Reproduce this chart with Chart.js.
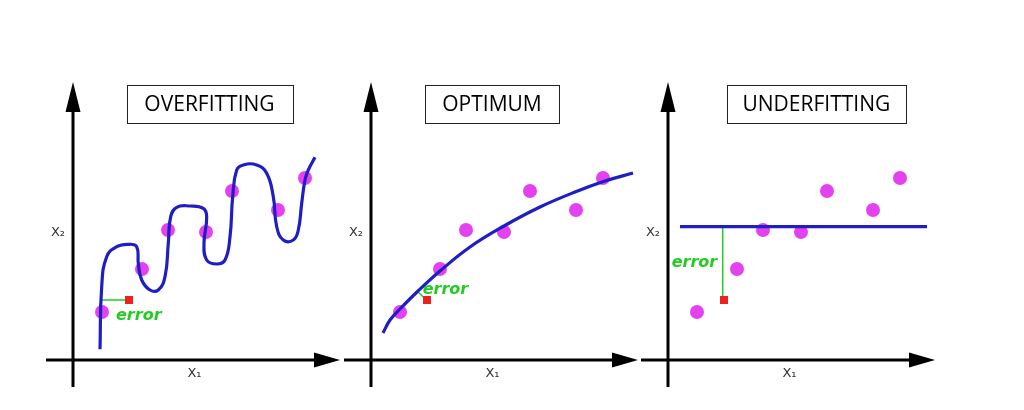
<!DOCTYPE html>
<html>
<head>
<meta charset="utf-8">
<script src="https://cdn.jsdelivr.net/npm/chart.js@4.4.0/dist/chart.umd.min.js"></script>
<style>
  body { margin: 0; background: #fff; width: 1024px; height: 410px; overflow: hidden; }
  canvas { position: absolute; top: 78px; }
</style>
</head>
<body>
<canvas id="c0" width="300" height="315" style="left:46px"></canvas>
<canvas id="c1" width="300" height="315" style="left:344px"></canvas>
<canvas id="c2" width="300" height="315" style="left:641px"></canvas>
<script>
// --- data (same sample points in all three panels) ---
const pointX = [2.9, 6.9, 9.5, 13.3, 15.9, 20.5, 23.2];
const pointY = [4.8, 9.1, 13.0, 12.8, 16.9, 15.0, 18.2];
const testX = [5.6];
const testY = [6.0];

// fitted curves
const overfitX = [2.7, 2.87, 3.37, 4.37, 5.53, 6.37, 6.53, 6.87, 7.7, 8.53, 9.2, 9.53, 9.77, 10.37, 11.7, 13.03, 13.37, 13.1, 13.37, 14.37, 15.2, 15.7, 15.97, 16.37, 17.03, 18.37, 19.37, 20.03, 20.37, 21.03, 22.03, 22.53, 22.87, 23.2, 23.53, 24.2];
const overfitY = [1.07, 7.33, 10.33, 11.33, 11.57, 11.33, 9.67, 8.0, 7.0, 7.0, 8.33, 11.67, 14.33, 15.27, 15.4, 15.17, 14.33, 11.67, 10.0, 9.6, 10.0, 12.33, 16.33, 19.0, 19.5, 19.5, 18.67, 16.33, 13.33, 12.0, 12.0, 13.0, 15.67, 18.0, 19.0, 20.27];
const optimumX = [1.2, 1.9, 2.9, 4.6, 6.9, 9.9, 13.3, 16.9, 20.4, 23.4, 26.2];
const optimumY = [2.7, 4.0, 5.1, 6.8, 8.9, 11.3, 13.4, 15.3, 16.8, 17.9, 18.7];
const underfitX = [1.2, 25.9];
const underfitY = [13.33, 13.33];

// error segments
const errOverX = [2.87, 5.57];
const errOverY = [6.0, 6.0];
const errOptX = [4.63, 5.5];
const errOptY = [6.88, 6.05];
const errUnderX = [5.47, 5.47];
const errUnderY = [13.33, 6.0];

const titles = ['OVERFITTING', 'OPTIMUM', 'UNDERFITTING'];

const BLUE = '#1e1ec4';
const MAGENTA = '#e442ef';
const GREEN = '#22cc22';
const RED = '#ee2020';

const panels = [
  { title: titles[0], cx: overfitX, cy: overfitY, tension: 0.45, ex: errOverX, ey: errOverY, label: [4.3, 4.4], box: [5.37, 21.93] },
  { title: titles[1], cx: optimumX, cy: optimumY, tension: 0.4, ex: errOptX, ey: errOptY, label: [5.17, 7.0], box: [5.4, 18.8] },
  { title: titles[2], cx: underfitX, cy: underfitY, tension: 0, ex: errUnderX, ey: errUnderY, label: [0.37, 9.73], box: [5.87, 23.8] }
];

function toXY(xs, ys) {
  return xs.map((x, i) => ({ x: x, y: ys[i] }));
}

// axes with arrows, title box, labels
const decorPlugin = {
  id: 'decor',
  beforeDatasetsDraw(chart) {
    const ctx = chart.ctx;
    const xs = chart.scales.x, ys = chart.scales.y;
    const ox = xs.getPixelForValue(0), oy = ys.getPixelForValue(0);
    const xEnd = xs.getPixelForValue(26.7), xStart = xs.getPixelForValue(-2.7);
    const yEnd = ys.getPixelForValue(27.8), yStart = ys.getPixelForValue(-2.7);
    ctx.save();
    ctx.strokeStyle = '#000';
    ctx.fillStyle = '#000';
    ctx.lineWidth = 3;
    ctx.beginPath();
    ctx.moveTo(xStart, oy); ctx.lineTo(xEnd - 24, oy);
    ctx.moveTo(ox, yStart); ctx.lineTo(ox, yEnd + 26);
    ctx.stroke();
    // arrow heads
    ctx.beginPath();
    ctx.moveTo(xEnd, oy);
    ctx.lineTo(xEnd - 26, oy - 7.5);
    ctx.lineTo(xEnd - 26, oy + 7.5);
    ctx.closePath();
    ctx.fill();
    ctx.beginPath();
    ctx.moveTo(ox, yEnd);
    ctx.lineTo(ox - 7.5, yEnd + 30);
    ctx.lineTo(ox + 7.5, yEnd + 30);
    ctx.closePath();
    ctx.fill();
    // axis labels
    ctx.fillStyle = '#333';
    ctx.font = '13px "DejaVu Sans"';
    ctx.textAlign = 'center';
    ctx.textBaseline = 'middle';
    ctx.fillText('X\u2082', xs.getPixelForValue(-1.5), ys.getPixelForValue(12.7));
    ctx.fillText('X\u2081', xs.getPixelForValue(12.15), ys.getPixelForValue(-1.35));
    ctx.restore();
  },
  afterDraw(chart, args, opts) {
    const ctx = chart.ctx;
    const xs = chart.scales.x, ys = chart.scales.y;
    const p = opts.panel;
    ctx.save();
    // title box
    const bx0 = xs.getPixelForValue(p.box[0]), bx1 = xs.getPixelForValue(p.box[1]);
    const by0 = ys.getPixelForValue(27.5), by1 = ys.getPixelForValue(23.73);
    ctx.fillStyle = '#fff';
    ctx.fillRect(bx0, by0, bx1 - bx0, by1 - by0);
    ctx.strokeStyle = '#222';
    ctx.lineWidth = 1;
    ctx.strokeRect(Math.round(bx0) + 0.5, Math.round(by0) + 0.5, Math.round(bx1 - bx0), Math.round(by1 - by0));
    ctx.fillStyle = '#000';
    ctx.font = '21px "Open Sans"';
    ctx.textAlign = 'center';
    ctx.textBaseline = 'middle';
    ctx.fillText(p.title, (bx0 + bx1) / 2, (by0 + by1) / 2 + 1);
    // error label
    ctx.fillStyle = GREEN;
    ctx.font = 'italic bold 16px "DejaVu Sans"';
    ctx.textAlign = 'left';
    ctx.fillText('error', xs.getPixelForValue(p.label[0]), ys.getPixelForValue(p.label[1]));
    ctx.restore();
  }
};

panels.forEach((p, i) => {
  new Chart(document.getElementById('c' + i), {
    type: 'scatter',
    data: {
      datasets: [
        {
          data: toXY(p.cx, p.cy),
          showLine: true,
          borderColor: BLUE,
          borderWidth: 3.2,
          pointRadius: 0,
          tension: p.tension,
          order: 0
        },
        {
          data: toXY(testX, testY),
          pointStyle: 'rect',
          pointRadius: 5.7,
          backgroundColor: RED,
          borderWidth: 0,
          order: 1
        },
        {
          data: toXY(pointX, pointY),
          pointRadius: 7,
          backgroundColor: MAGENTA,
          borderWidth: 0,
          order: 2
        },
        {
          data: toXY(p.ex, p.ey),
          showLine: true,
          borderColor: GREEN,
          borderWidth: 1.5,
          pointRadius: 0,
          order: 3
        }
      ]
    },
    options: {
      responsive: false,
      animation: false,
      layout: { padding: 0, autoPadding: false },
      plugins: {
        legend: { display: false },
        tooltip: { enabled: false },
        decor: { panel: p }
      },
      scales: {
        x: { type: 'linear', display: false, min: -2.7, max: 27.3 },
        y: { type: 'linear', display: false, min: -3.3, max: 28.2 }
      }
    },
    plugins: [decorPlugin]
  });
});
</script>
</body>
</html>
